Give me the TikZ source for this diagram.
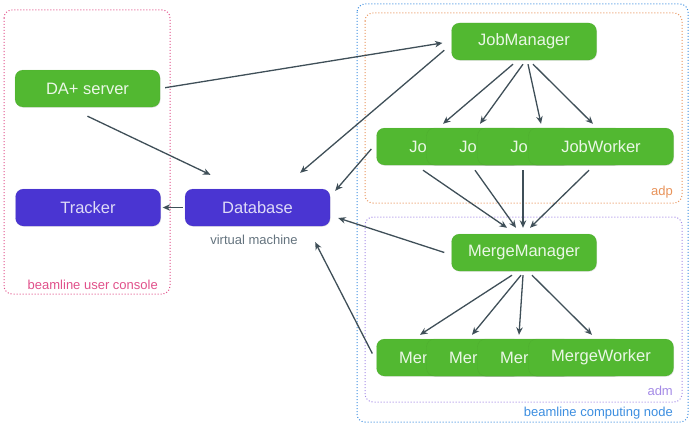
\documentclass[tikz,border=0pt]{standalone}
\usepackage{fontspec}
\setmainfont{Liberation Sans}
\usetikzlibrary{calc,arrows.meta,shadows}
\definecolor{gbox}{HTML}{52B831}
\definecolor{bbox}{HTML}{4A35D2}
\definecolor{arrc}{HTML}{3F4F58}
\definecolor{pinkc}{HTML}{E0508A}
\definecolor{orc}{HTML}{E8935A}
\definecolor{purc}{HTML}{A48AE6}
\definecolor{bluec}{HTML}{3C8EE0}
\definecolor{grayc}{HTML}{64737E}
\newlength\cutlen
\newcommand\clipword[2]{\settowidth\cutlen{#1}\makebox[\cutlen][l]{#2}}
\tikzset{
  box/.style={rectangle, rounded corners=8pt, minimum width=145pt, minimum height=37pt,
    inner sep=0pt, font=\fontsize{16.5}{18}\selectfont,
    drop shadow={opacity=0.18, shadow xshift=0.6pt, shadow yshift=-0.8pt}},
  gb/.style={box, fill=gbox, draw=gbox!85!black, draw opacity=0.35, text=white!88!gbox},
  bb/.style={box, fill=bbox, draw=bbox!85!black, draw opacity=0.35, text=white!82!bbox},
  arr/.style={draw=arrc, line width=1.3pt, -{Stealth[length=7.5pt,width=6.5pt]}},
  region/.style={rounded corners=8pt, dotted, line width=1pt},
  lbl/.style={inner sep=0pt, font=\fontsize{13}{15}\selectfont}
}
\begin{document}
\begin{tikzpicture}[x=1pt,y=-1pt]
\useasboundingbox (0,0) rectangle (692,428);
% regions
\draw[region, draw=pinkc] (4,10) rectangle (170,294);
\draw[region, draw=bluec] (357,4) rectangle (688,422);
\draw[region, draw=orc] (365,13) rectangle (682,203);
\draw[region, draw=purc] (365,217) rectangle (682,402);
\node[lbl, text=pinkc, anchor=east] (lcon) at (158,285) {beamline user console};
\node[lbl, text=bluec, anchor=east] (lnode) at (673,413) {beamline computing node};
\node[lbl, text=orc, anchor=east] (ladp) at (673,192) {adp};
\node[lbl, text=purc, anchor=east] (ladm) at (673,391) {adm};
\node[lbl, text=grayc] (lvm) at (254,240) {virtual machine};
% nodes
\node[gb] (da) at (87.5,88.5) {DA+ server};
\node[bb] (tr) at (88,207.5) {Tracker};
\node[bb] (db) at (257.5,207.5) {Database};
\node[gb] (jm) at (524,41.5) {JobManager};
\node[gb] (jw1) at (449,146.5) {\clipword{JobWorker}{Jo}};
\node[gb] (jw2) at (499,146.5) {\clipword{JobWorker}{Jo}};
\node[gb] (jw3) at (550,146.5) {\clipword{JobWorker}{Jo}};
\node[gb] (jw4) at (601,146.5) {JobWorker};
\node[gb] (mm) at (524,252.5) {MergeManager};
\node[gb] (mw1) at (449,357.5) {\clipword{MergeWorker}{Mer}};
\node[gb] (mw2) at (499,357.5) {\clipword{MergeWorker}{Mer}};
\node[gb] (mw3) at (550,357.5) {\clipword{MergeWorker}{Mer}};
\node[gb] (mw4) at (601,357.5) {MergeWorker};
% connectors
\draw[arr, shorten <=5pt, shorten >=9pt] (da.east) -- (jm.west);
\draw[arr] ($(da.south)+(0,9)$) -- ($(db.north)+(-47,-14)$);
\draw[arr] ($(jm.south west)+(-7,-10)$) -- ($(db.north east)+(-30,-16)$);
\draw[arr] ($(jw1.west)+(-5,2.5)$) -- ($(db.north east)+(5,2)$);
\draw[arr] ($(mm.west)+(-7,0)$) -- ($(db.east)+(8,10.5)$);
\draw[arr] ($(mw1.west)+(-4,-4)$) -- ($(db.south east)+(-15,16)$);
\draw[arr, shorten <=2pt, shorten >=2pt] (db.west) -- (tr.east);
% JobManager -> JobWorkers
\draw[arr] ($(jm.south)+(-11,4)$) -- ($(jw1.north)+(-6,-4)$);
\draw[arr] ($(jm.south)+(-1,4)$) -- ($(jw2.north)+(-19,-4)$);
\draw[arr] ($(jm.south)+(4,4)$) -- ($(jw3.north)+(-9,-4)$);
\draw[arr] ($(jm.south)+(9,4)$) -- ($(jw4.north)+(-8,-4)$);
% JobWorkers -> MergeManager
\draw[arr] ($(jw1.south)+(-26,5)$) -- ($(mm.north)+(-17,-6)$);
\draw[arr] ($(jw2.south)+(-24,5)$) -- ($(mm.north)+(-8,-6)$);
\draw[arr] ($(jw3.south)+(-27,5)$) -- ($(mm.north)+(-1,-6)$);
\draw[arr] ($(jw4.south)+(-12,5)$) -- ($(mm.north)+(6,-6)$);
% MergeManager -> MergeWorkers
\draw[arr] ($(mm.south)+(-12,4)$) -- ($(mw1.north)+(-29,-4)$);
\draw[arr] ($(mm.south)+(-3,4)$) -- ($(mw2.north)+(-27,-4)$);
\draw[arr] ($(mm.south)+(-1,4)$) -- ($(mw3.north)+(-31,-4)$);
\draw[arr] ($(mm.south)+(8,4)$) -- ($(mw4.north)+(-9,-4)$);
\end{tikzpicture}
\end{document}
